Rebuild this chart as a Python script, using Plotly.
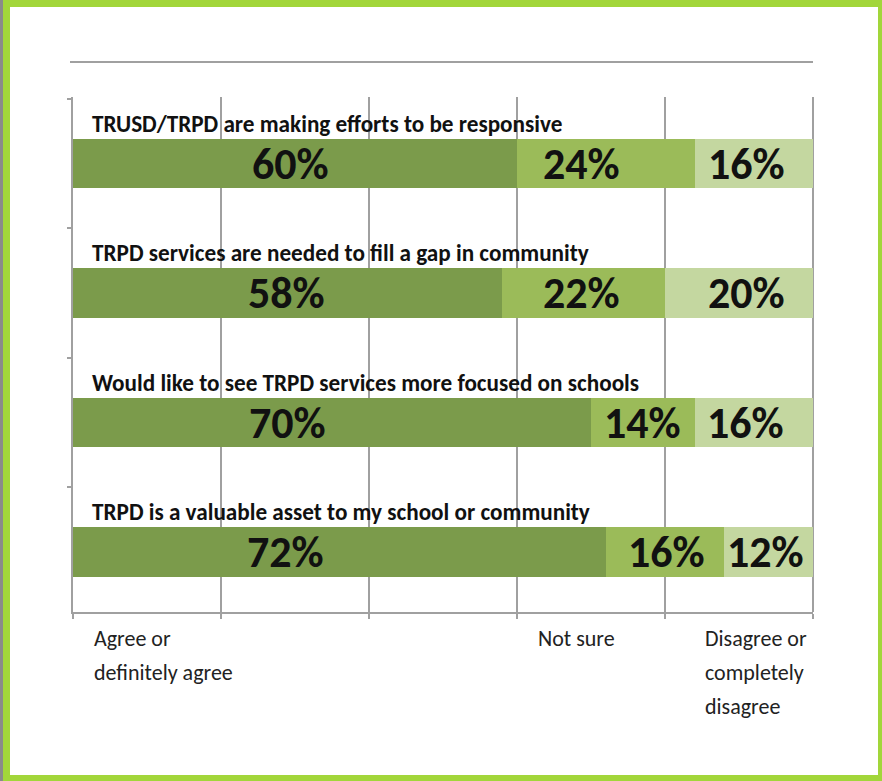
import plotly.graph_objects as go

categories = [
    "TRUSD/TRPD are making efforts to be responsive",
    "TRPD services are needed to fill a gap in community",
    "Would like to see TRPD services more focused on schools",
    "TRPD is a valuable asset to my school or community",
]
agree = [60, 58, 70, 72]
not_sure = [24, 22, 14, 16]
disagree = [16, 20, 16, 12]
series_names = ["Agree or definitely agree", "Not sure", "Disagree or completely disagree"]
axis_labels = [
    (0, ["Agree or", "definitely agree"]),
    (60, ["Not sure"]),
    (80, ["Disagree or", "completely", "disagree"]),
]

# style: horizontal pixel nudges of value labels from segment centres (per bar, per series)
label_nudge = [[-5, -24, -7], [-1, -2, 7], [-45, 0, -8], [-54, 1, -3]]

colors = ["#7b9b4b", "#9bbb59", "#c4d7a0"]
W, H = 882, 781
L, R, T, B = 73, 813, 97, 612
FONT = "Carlito, Lato, sans-serif"

def px(x):
    return (x - L) / (R - L)

def py(y):
    return (B - y) / (B - T)

fig = go.Figure()
series = [agree, not_sure, disagree]
for name, vals, col in zip(series_names, series, colors):
    fig.add_trace(go.Bar(
        y=categories, x=vals, name=name, orientation="h",
        marker=dict(color=col, line=dict(width=0)),
        hoverinfo="skip",
    ))

annotations = []
for bi, c in enumerate(categories):
    start = 0
    for si, vals in enumerate(series):
        v = vals[bi]
        annotations.append(dict(
            x=start + v / 2, y=c, xref="x", yref="y", text="<b>%d%%</b>" % v, showarrow=False,
            xanchor="center", yanchor="middle", xshift=label_nudge[bi][si],
            font=dict(family=FONT, size=44, color="#111111"),
        ))
        start += v
    annotations.append(dict(
        x=0, y=c, xref="x", yref="y", text="<b>" + c + "</b>", showarrow=False,
        xanchor="left", yanchor="middle", xshift=17, yshift=40,
        font=dict(family=FONT, size=23.2, color="#111111"),
    ))
for xv, lines in axis_labels:
    shift = 38 if xv == 80 else 19
    for i, line in enumerate(lines):
        annotations.append(dict(
            x=xv, y=py(638 + 34 * i), xref="x", yref="paper", text=line, showarrow=False,
            xanchor="left", yanchor="middle", xshift=shift,
            font=dict(family=FONT, size=22, color="#222222"),
        ))

shapes = [
    dict(type="rect", xref="paper", yref="paper", x0=px(10), x1=px(878), y0=py(775), y1=py(7),
         fillcolor="white", line=dict(width=0), layer="below"),
    dict(type="rect", xref="paper", yref="paper", x0=px(0), x1=px(3), y0=py(781), y1=py(0),
         fillcolor="#8a8a8a", line=dict(width=0), layer="below"),
    dict(type="line", xref="paper", yref="paper", x0=px(70), x1=px(813), y0=py(62), y1=py(62),
         line=dict(color="#a0a0a0", width=2), layer="below"),
    dict(type="line", xref="paper", yref="paper", x0=1, x1=1, y0=0, y1=1,
         line=dict(color="#a0a0a0", width=2), layer="below"),
]

fig.update_layout(
    width=W, height=H, barmode="stack", bargap=0.618, showlegend=False,
    margin=dict(l=L, r=W - R, t=T, b=H - B, pad=0),
    paper_bgcolor="#a2d63a", plot_bgcolor="rgba(0,0,0,0)",
    annotations=annotations, shapes=shapes,
    xaxis=dict(range=[0, 100], dtick=20, showgrid=True, gridcolor="#a0a0a0", gridwidth=2,
               zeroline=False, showline=True, linecolor="#a0a0a0", linewidth=2,
               ticks="outside", ticklen=5, tickcolor="#a0a0a0", tickwidth=2,
               showticklabels=False, fixedrange=True),
    yaxis=dict(categoryorder="array", categoryarray=list(reversed(categories)),
               range=[-0.463, 3.514], showgrid=False, zeroline=False,
               showline=True, linecolor="#a0a0a0", linewidth=2,
               ticks="outside", tickson="boundaries", ticklen=4, tickcolor="#a0a0a0", tickwidth=2,
               showticklabels=False, fixedrange=True),
)

fig.write_html("out.html", config={"displayModeBar": False},
               post_script="document.body.style.margin='0';document.body.style.overflow='hidden';")
